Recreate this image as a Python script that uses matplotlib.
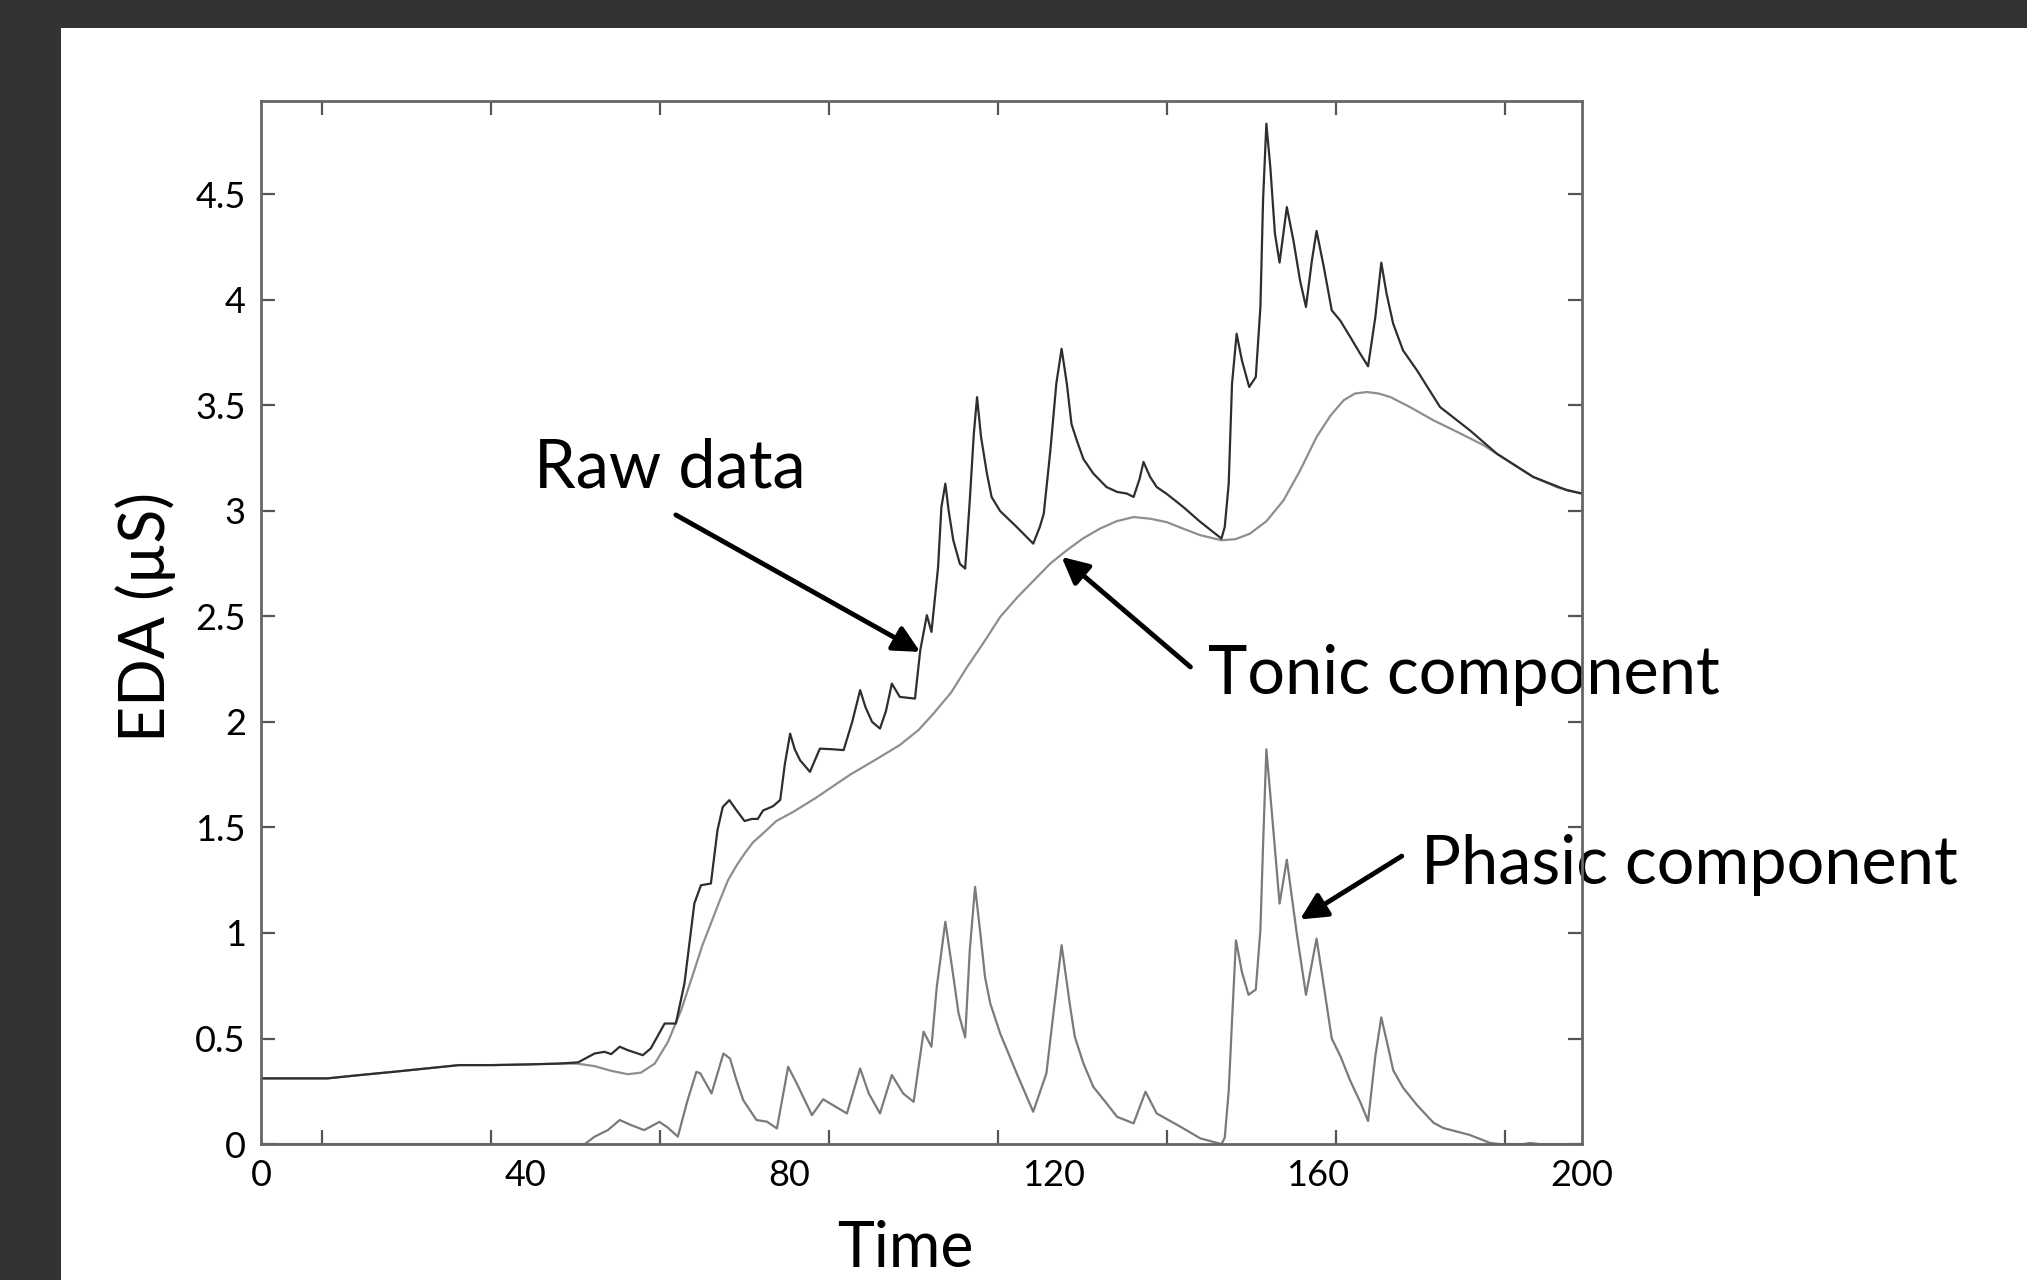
import matplotlib
matplotlib.use("Agg")
import matplotlib.pyplot as plt
from matplotlib.patches import Rectangle

plt.rcParams['font.family'] = ['Lato', 'DejaVu Sans']

# raw skin conductance
raw_t = [0, 10, 15, 20, 25, 30, 35, 40, 45, 48, 50.5, 52, 53, 54.3, 55.5, 57.8, 59.0,
         61.1, 62.8, 64.1, 65.6, 66.6, 68.1, 69.1, 69.9, 70.9, 72.0, 73.2, 74.3, 75.2, 76,
         77.5, 78.6, 79.3, 80.1, 80.8, 81.6, 83.1, 84.6, 86.5, 88.2, 89.5, 90.7, 91.5, 92.5,
         93.7, 94.6, 95.5, 96.7, 99.0, 99.8, 100.8, 101.5, 102.5, 103.0, 103.6, 104.1, 104.8,
         105.8, 106.6, 107.3, 107.9, 108.4, 109.0, 109.9, 110.6, 111.9, 114.4, 116.9, 117.9,
         118.5, 119.5, 120.4, 121.2, 122.0, 122.7, 123.5, 124.5, 126, 128, 129.6, 131.1,
         132.1, 133.0, 133.6, 134.6, 135.6, 137.1, 139.6, 142.2, 145.4, 145.9, 146.5, 147.0,
         147.7, 148.5, 149.6, 150.6, 151.3, 151.7, 152.2, 152.8, 153.5, 154.2, 155.3, 156.3,
         157.3, 158.2, 159.1, 159.8, 160.9, 162.1, 163.4, 164.9, 166.4, 167.6, 168.7, 169.6,
         170.4, 171.4, 172.9, 175, 178.5, 183, 187.1, 192.6, 197.7, 200]
raw_v = [0.311, 0.311, 0.327, 0.342, 0.358, 0.374, 0.374, 0.377, 0.381, 0.387, 0.429, 0.437,
         0.426, 0.461, 0.445, 0.421, 0.453, 0.571, 0.571, 0.761, 1.14, 1.226, 1.234, 1.487,
         1.597, 1.629, 1.58, 1.53, 1.54, 1.54, 1.58, 1.6, 1.63, 1.8, 1.944, 1.87, 1.818,
         1.763, 1.873, 1.87, 1.866, 2.0, 2.15, 2.07, 2.0, 1.968, 2.05, 2.181, 2.118, 2.11,
         2.339, 2.505, 2.426, 2.733, 3.017, 3.128, 3.0, 2.86, 2.748, 2.726, 3.05, 3.36, 3.538,
         3.35, 3.175, 3.065, 2.998, 2.923, 2.844, 2.923, 2.986, 3.286, 3.602, 3.767, 3.6,
         3.41, 3.333, 3.245, 3.176, 3.112, 3.089, 3.081, 3.065, 3.15, 3.231, 3.16, 3.112,
         3.08, 3.018, 2.947, 2.868, 2.923, 3.128, 3.6, 3.838, 3.712, 3.586, 3.633, 3.965,
         4.47, 4.833, 4.628, 4.312, 4.175, 4.438, 4.28, 4.09, 3.965, 4.186, 4.325, 4.154,
         3.949, 3.9, 3.823, 3.744, 3.684, 3.917, 4.175, 4.028, 3.886, 3.759, 3.665, 3.491,
         3.381, 3.27, 3.16, 3.097, 3.081]

# tonic component
tonic_t = [0, 10, 15, 20, 25, 30, 35, 40, 45, 47.9, 50.5, 53, 55.5, 57.5, 59.6, 61.6, 63.6,
           65.6, 66.8, 68.1, 69.4, 70.7, 72, 73.2, 74.5, 75.7, 78, 80.6, 84, 89.2, 93, 96.7,
           99.5, 101.8, 104.5, 106.9, 109.5, 111.9, 114.5, 117.0, 119.5, 122, 124.5, 127,
           129.5, 132.1, 134.6, 137.1, 139.6, 142.2, 145.4, 147.5, 149.7, 152.2, 154.8, 157.3,
           159.8, 161.9, 163.9, 165.6, 167.4, 169.2, 171, 174, 177.5, 181.3, 185.1, 188.8,
           192.6, 196.3, 200]
tonic_v = [0.311, 0.311, 0.327, 0.342, 0.358, 0.374, 0.374, 0.377, 0.381, 0.381, 0.369, 0.347,
           0.331, 0.338, 0.381, 0.484, 0.634, 0.824, 0.94, 1.045, 1.15, 1.25, 1.32, 1.376,
           1.43, 1.463, 1.53, 1.574, 1.64, 1.75, 1.82, 1.89, 1.96, 2.039, 2.14, 2.26, 2.38,
           2.497, 2.59, 2.67, 2.75, 2.813, 2.87, 2.915, 2.95, 2.97, 2.962, 2.946, 2.915, 2.884,
           2.86, 2.865, 2.891, 2.95, 3.049, 3.19, 3.349, 3.45, 3.523, 3.555, 3.562, 3.555,
           3.538, 3.49, 3.428, 3.37, 3.31, 3.235, 3.16, 3.11, 3.081]

# phasic component
phasic_t = [0, 49, 50.5, 52.5, 54.3, 56, 58, 60.3, 61.5, 63.1, 64.5, 65.9, 66.5, 68.2, 70.0,
            71, 72, 73, 75, 76.6, 78.1, 79.8, 81.1, 83.4, 85.1, 88.7, 90.7, 92.0, 93.7, 95.5,
            97.2, 98.8, 100.3, 101.5, 102.3, 103.6, 104.6, 105.6, 106.6, 107.3, 108.1, 108.9,
            109.6, 110.4, 111.9, 114.4, 116.9, 118.9, 119.9, 121.2, 122.5, 123.2, 124.5, 126.0,
            128, 129.6, 132.1, 133.9, 135.6, 139.2, 142.2, 145.4, 145.9, 146.5, 147.0, 147.6,
            148.5, 149.5, 150.6, 151.3, 151.7, 152.2, 153.1, 154.2, 155.3, 156.8, 158.2, 159.8,
            160.9, 162.1, 163.4, 164.9, 166.4, 167.6, 168.7, 169.6, 170.7, 171.4, 172.9, 175,
            177.5, 179, 183, 186.1, 187.6, 191, 192.2, 193.5, 200]
phasic_v = [0, 0, 0.035, 0.066, 0.114, 0.09, 0.066, 0.105, 0.08, 0.035, 0.2, 0.342, 0.335,
            0.24, 0.429, 0.405, 0.3, 0.208, 0.114, 0.106, 0.074, 0.366, 0.287, 0.137, 0.212,
            0.145, 0.358, 0.24, 0.145, 0.327, 0.24, 0.2, 0.532, 0.461, 0.745, 1.053, 0.84,
            0.619, 0.505, 0.919, 1.218, 0.998, 0.792, 0.666, 0.524, 0.335, 0.153, 0.335, 0.603,
            0.942, 0.65, 0.508, 0.382, 0.271, 0.193, 0.129, 0.098, 0.248, 0.145, 0.082, 0.027,
            0.0, 0.03, 0.251, 0.583, 0.965, 0.815, 0.707, 0.732, 1.015, 1.413, 1.87, 1.546,
            1.139, 1.347, 0.998, 0.707, 0.973, 0.749, 0.5, 0.417, 0.3, 0.2, 0.109, 0.417, 0.6,
            0.45, 0.35, 0.267, 0.185, 0.101, 0.076, 0.043, 0.005, 0, 0, 0.005, 0, 0]

xtick_pos = [0, 40, 80, 120, 160, 200]
xtick_labels = ["0", "40", "80", "120", "160", "200"]
xtick_marks = [9.15, 34.75, 60.35, 85.95, 111.55, 137.15, 162.75, 188.35]
ytick_pos = [0, 0.5, 1, 1.5, 2, 2.5, 3, 3.5, 4, 4.5]
ytick_labels = ["0", "0.5", "1", "1.5", "2", "2.5", "3", "3.5", "4", "4.5"]

fig = plt.figure(figsize=(20.27, 12.8), dpi=100, facecolor='#333333')
fig.patches.append(Rectangle((61 / 2027, 0), 1, 1 - 28 / 1280, transform=fig.transFigure,
                             facecolor='white', edgecolor='none', zorder=-1))
ax = fig.add_axes([0.1288, 0.1062, 0.6517, 0.8148])
ax.set_zorder(1)

ax.plot(phasic_t, phasic_v, color='#7a7a7a', lw=1.6, zorder=2)
ax.plot(tonic_t, tonic_v, color='#8e8e8e', lw=1.6, zorder=2)
ax.plot(raw_t, raw_v, color='#2e2e2e', lw=1.6, zorder=2)

ax.set_xlim(0, 200)
ax.set_ylim(0, 4.94)

ax.set_xticks(xtick_pos)
ax.set_xticklabels(xtick_labels)
ax.set_xticks(xtick_marks, minor=True)
ax.set_yticks(ytick_pos)
ax.set_yticklabels(ytick_labels)
ax.tick_params(axis='x', which='major', length=0, pad=11, labelsize=26)
ax.tick_params(axis='x', which='minor', direction='in', length=10, width=1.6,
               color='#555555', top=True, bottom=True)
ax.tick_params(axis='y', which='major', direction='in', length=10, width=1.6,
               color='#555555', left=True, right=True, pad=11, labelsize=26)
for s in ax.spines.values():
    s.set_color('#666666')
    s.set_linewidth(2)

ax.set_xlabel('Time', fontsize=45)
ax.xaxis.label.set_va('baseline')
ax.xaxis.set_label_coords(0.488, -0.118)
ax.set_ylabel('EDA (µS)', fontsize=45)
ax.yaxis.label.set_va('baseline')
ax.yaxis.set_label_coords(-0.073, 0.505)

arrow = dict(arrowstyle='-|>', lw=3.5, color='black', mutation_scale=40, shrinkA=0, shrinkB=0)
ax.annotate('', xy=(99.8, 2.331), xytext=(62.8, 2.98), arrowprops=arrow)
ax.annotate('', xy=(121.2, 2.781), xytext=(140.7, 2.26), arrowprops=arrow)
ax.annotate('', xy=(157.3, 1.064), xytext=(172.7, 1.364), arrowprops=arrow)

ax.text(41.3, 3.111, 'Raw data', fontsize=48, va='baseline', zorder=2)
ax.text(143.4, 2.131, 'Tonic component', fontsize=48, va='baseline', zorder=2)
ax.text(175.6, 1.231, 'Phasic component', fontsize=48, va='baseline', zorder=2)

fig.savefig('out.png', dpi=100, facecolor=fig.get_facecolor())
